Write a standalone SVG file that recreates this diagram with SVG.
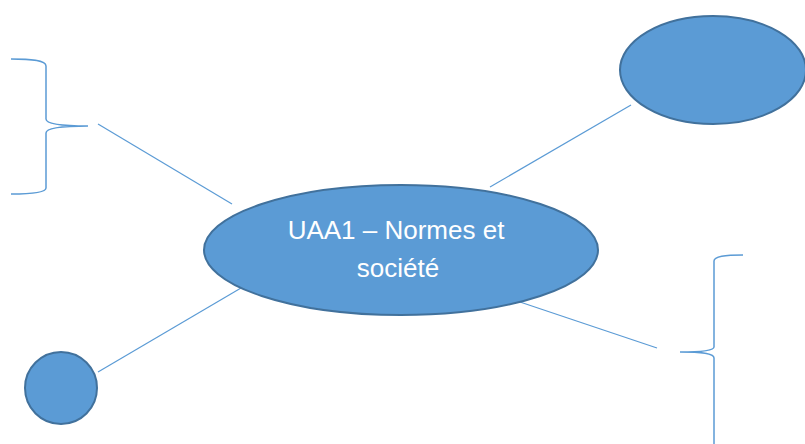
<svg xmlns="http://www.w3.org/2000/svg" width="805" height="444" viewBox="0 0 805 444">
<style>
.node{fill:#5b9bd5;stroke:#41719c;stroke-width:2}
.con{fill:none;stroke:#5b9bd5;stroke-width:1.2}
.brace{fill:none;stroke:#5b9bd5;stroke-width:1.5}
.lbl{font-family:"Liberation Sans",Arial,sans-serif;font-size:26px;fill:#ffffff;text-anchor:middle}
</style>
<rect width="805" height="444" fill="#ffffff"/>
<g id="connectors">
<line class="con" x1="98" y1="124" x2="232" y2="204"/>
<line class="con" x1="490" y1="187" x2="631" y2="105"/>
<line class="con" x1="98" y1="372" x2="241" y2="288"/>
<line class="con" x1="517" y1="301" x2="657" y2="348"/>
</g>
<g id="brace-left">
<path class="brace" d="M11,59 C30,59 46,60 46,66 L46,119 C46,124 60,126 88,126 C60,126 46,128 46,133 L46,188 C46,193 30,194 11,194"/>
</g>
<g id="brace-right">
<path class="brace" d="M743,255 C725,255 714,256 714,261 L714,347 C714,350 705,352 680,352 C705,352 714,354 714,358 L714,444"/>
</g>
<g id="ellipse-top-right">
<ellipse class="node" cx="713" cy="70" rx="93" ry="54"/>
</g>
<g id="circle-bottom-left">
<circle class="node" cx="61" cy="388" r="36"/>
</g>
<g id="center">
<ellipse class="node" cx="401" cy="250" rx="197" ry="65"/>
<text class="lbl" x="396" y="239">UAA1 – Normes et</text>
<text class="lbl" x="398" y="277">société</text>
</g>
</svg>
